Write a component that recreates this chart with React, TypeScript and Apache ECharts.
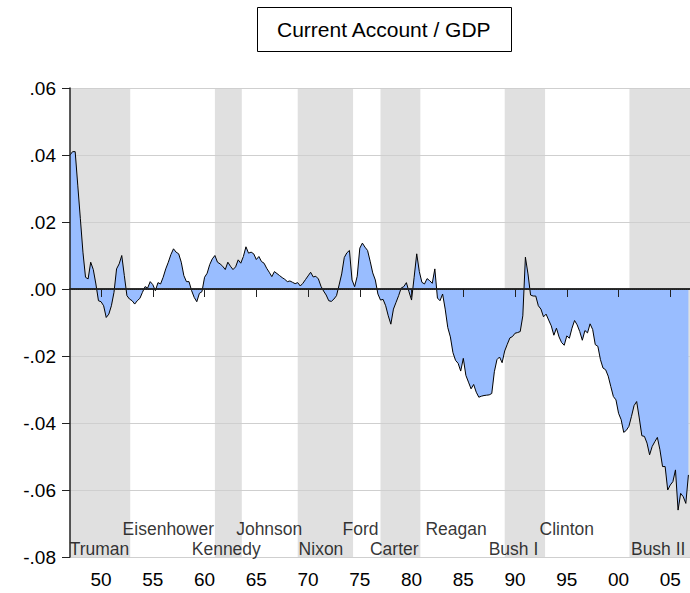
import React, { useEffect, useRef } from "react";
import * as echarts from "echarts";

// Quarterly current account / GDP, 1947Q1 .. 2006Q4
const START_YEAR = 1947;
const caGdp = [
  0.040, 0.041, 0.041, 0.031,
  0.021, 0.011, 0.0035, 0.003,
  0.008, 0.0058, 0.0015, -0.0035,
  -0.0038, -0.005, -0.0085, -0.0075,
  -0.005, -0.001, 0.006, 0.0075,
  0.010, 0.004, -0.002, -0.003,
  -0.0035, -0.0045, -0.0035, -0.0028,
  -0.001, 0.0007, 0.0003, 0.0022,
  0.0013, -0.0005, 0.0019, 0.0015,
  0.0035, 0.006, 0.008, 0.0103,
  0.012, 0.011, 0.0105, 0.008,
  0.004, 0.0022, 0.0022, -0.0005,
  -0.0025, -0.0038, -0.0013, -0.0008,
  0.0035, 0.0047, 0.0073, 0.009,
  0.010, 0.008, 0.0075, 0.0068,
  0.0058, 0.008, 0.0068, 0.0058,
  0.0066, 0.0087, 0.0077, 0.0097,
  0.0126, 0.0107, 0.011, 0.0105,
  0.0088, 0.0097, 0.0082, 0.0077,
  0.0062, 0.005, 0.0037, 0.0052,
  0.0046, 0.004, 0.0034, 0.0029,
  0.0022, 0.0024, 0.002, 0.0016,
  0.0019, 0.0009, 0.0017, 0.0028,
  0.0039, 0.005, 0.0036, 0.0038,
  0.003, 0.0008, -0.0006, -0.0018,
  -0.0035, -0.0037, -0.003, -0.002,
  0.0012, 0.0045, 0.0094, 0.0108,
  0.0115, 0.0027, 0.0007, 0.0038,
  0.0122, 0.0137, 0.0125, 0.0115,
  0.0083, 0.0048, 0.0027, -0.0015,
  -0.0033, -0.0031, -0.005, -0.008,
  -0.0105, -0.006, -0.004, -0.002,
  0.0003, 0.0007, 0.0019, -0.0008,
  -0.0033, 0.0035, 0.0105, 0.0052,
  0.002, 0.0015, 0.0031, 0.0025,
  0.0017, 0.006, -0.0027, -0.0035,
  -0.0015, -0.006, -0.0115, -0.0143,
  -0.019, -0.0213, -0.0222, -0.0245,
  -0.0207, -0.0258, -0.0278, -0.0298,
  -0.0285, -0.0308, -0.0323, -0.032,
  -0.0318, -0.0317, -0.0316, -0.0312,
  -0.0247, -0.0211, -0.0203, -0.022,
  -0.0185, -0.0165, -0.0146, -0.0142,
  -0.0132, -0.013, -0.0127, -0.008,
  0.0095, 0.0045, -0.0018, -0.0021,
  -0.0021, -0.005, -0.006, -0.0083,
  -0.0075, -0.0093, -0.011, -0.0138,
  -0.0117, -0.0143, -0.016, -0.0168,
  -0.014, -0.0147, -0.0117, -0.0094,
  -0.0107, -0.0127, -0.0153, -0.0124,
  -0.0131, -0.0104, -0.0121, -0.0166,
  -0.0171, -0.0211, -0.0236, -0.0241,
  -0.026, -0.0291, -0.0321, -0.0331,
  -0.0371, -0.039, -0.0428, -0.0422,
  -0.041, -0.038, -0.0348, -0.0336,
  -0.0385, -0.0438, -0.044, -0.046,
  -0.0495, -0.047, -0.0456, -0.0443,
  -0.048, -0.053, -0.053, -0.060,
  -0.0585, -0.0575, -0.054, -0.066,
  -0.061, -0.062, -0.064, -0.0555,
];

// Shaded presidencies (start / end in years)
const shadeStart = [1947.0, 1961.0, 1969.0, 1977.0, 1989.0, 2001.05];
const shadeEnd = [1952.82, 1963.6, 1974.35, 1980.85, 1992.9, 2007.0];

// President labels
const presidentNames = ["Truman", "Eisenhower", "Kennedy", "Johnson", "Nixon", "Ford", "Carter", "Reagan", "Bush I", "Clinton", "Bush II"];
const presidentLabelYear = [1949.85, 1956.5, 1962.1, 1966.25, 1971.25, 1975.07, 1978.33, 1984.3, 1989.85, 1995.0, 2003.83];
const presidentLabelLevel = [-0.0775, -0.0715, -0.0775, -0.0715, -0.0775, -0.0715, -0.0775, -0.0715, -0.0775, -0.0715, -0.0775];

const xTickYears = [1950, 1955, 1960, 1965, 1970, 1975, 1980, 1985, 1990, 1995, 2000, 2005];
const yMin = -0.08;
const yMax = 0.06;
const yStep = 0.02;
const xMin = 1947;
const xMax = 2007;

const FONT = "'Liberation Sans', Arial, Helvetica, sans-serif";

export default function App() {
  const ref = useRef<HTMLDivElement>(null);

  useEffect(() => {
    if (!ref.current) return;
    const chart = echarts.init(ref.current, undefined, { renderer: "svg" });

    const lineData = caGdp.map((v, i) => [START_YEAR + i / 4, v]);
    const shadeData = shadeStart.map((s, i) => [s, shadeEnd[i]]);
    const labelData = presidentNames.map((n, i) => ({
      name: n,
      value: [presidentLabelYear[i], presidentLabelLevel[i]],
    }));

    const yFmt = (v: number) => v.toFixed(2).replace(/^(-?)0\./, "$1.");

    chart.setOption({
      animation: false,
      backgroundColor: "#ffffff",
      title: {
        text: "Current Account / GDP",
        left: 257,
        top: 7,
        padding: [10, 20],
        borderColor: "#000",
        borderWidth: 1,
        textStyle: {
          fontFamily: FONT,
          fontSize: 21,
          fontWeight: "normal",
          color: "#000",
          lineHeight: 25,
        },
      },
      grid: { left: 70, top: 88, right: 9, bottom: 36, containLabel: false },
      xAxis: [
        {
          type: "value",
          min: xMin,
          max: xMax,
          z: 5,
          axisLine: { show: true, lineStyle: { color: "#222", width: 1.5 } },
          axisTick: {
            show: true,
            inside: false,
            length: 8,
            customValues: xTickYears,
            lineStyle: { color: "#222", width: 1 },
          },
          axisLabel: {
            show: true,
            customValues: xTickYears,
            margin: 13,
            fontFamily: FONT,
            fontSize: 19,
            color: "#000",
            formatter: (v: number) => String(Math.round(v) % 100).padStart(2, "0"),
          },
          splitLine: { show: false },
        },
        {
          type: "value",
          position: "top",
          min: xMin,
          max: xMax,
          z: 5,
          axisLine: { show: true, lineStyle: { color: "#222", width: 1.5 } },
          axisTick: { show: false },
          axisLabel: { show: false },
          splitLine: { show: false },
        },
      ],
      yAxis: [
        {
          type: "value",
          min: yMin,
          max: yMax,
          interval: yStep,
          z: 2,
          axisLine: { show: false },
          axisTick: { show: true, inside: false, length: 8, lineStyle: { color: "#222" } },
          axisLabel: {
            show: true,
            margin: 14,
            fontFamily: FONT,
            fontSize: 19,
            color: "#000",
            formatter: yFmt,
          },
          splitLine: { show: true, lineStyle: { color: "#cfcfcf", width: 1 } },
        },
        {
          type: "value",
          position: "left",
          min: yMin,
          max: yMax,
          interval: yStep,
          z: 5,
          axisLine: { show: true, lineStyle: { color: "#222", width: 1.5 } },
          axisTick: { show: false },
          axisLabel: { show: false },
          splitLine: { show: false },
        },
      ],
      series: [
        {
          type: "custom",
          name: "presidencies",
          z: 1,
          silent: true,
          xAxisIndex: 0,
          yAxisIndex: 0,
          encode: { x: [0, 1] },
          data: shadeData,
          renderItem: (params: any, api: any) => {
            const cs = params.coordSys;
            const x0 = api.coord([api.value(0), 0])[0];
            const x1 = api.coord([api.value(1), 0])[0];
            const left = Math.max(x0, cs.x);
            const right = Math.min(x1, cs.x + cs.width);
            return {
              type: "rect",
              shape: { x: left, y: cs.y, width: right - left, height: cs.height },
              style: { fill: "#e0e0e0" },
            };
          },
        },
        {
          type: "line",
          name: "Current Account / GDP",
          z: 3,
          xAxisIndex: 0,
          yAxisIndex: 0,
          data: lineData,
          showSymbol: false,
          symbol: "none",
          lineStyle: { color: "#000", width: 1 },
          areaStyle: { color: "#99bdff", opacity: 1, origin: 0 },
          markLine: {
            silent: true,
            symbol: "none",
            label: { show: false },
            lineStyle: { color: "#000", width: 1, type: [1, 1] },
            data: [{ yAxis: 0 }],
          },
        },
        {
          type: "scatter",
          name: "labels",
          z: 4,
          silent: true,
          xAxisIndex: 0,
          yAxisIndex: 0,
          symbolSize: 0,
          data: labelData,
          label: {
            show: true,
            position: "inside",
            formatter: "{b}",
            fontFamily: FONT,
            fontSize: 17.5,
            color: "#000",
          },
        },
      ],
    });

    return () => chart.dispose();
  }, []);

  return (
    <div
      ref={ref}
      style={{ position: "fixed", left: 0, top: 0, width: 700, height: 593 }}
    />
  );
}
